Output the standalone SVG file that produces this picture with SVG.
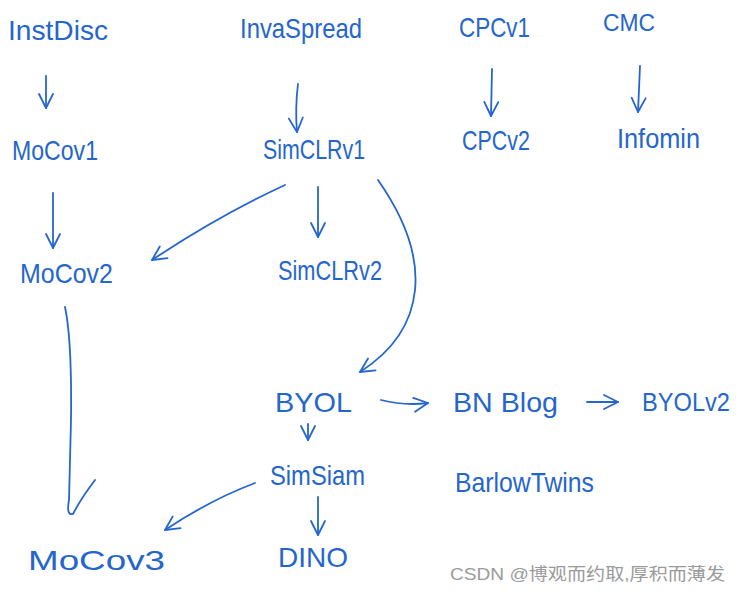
<svg xmlns="http://www.w3.org/2000/svg" width="742" height="592" viewBox="0 0 742 592">
<style>
.t{font-family:"Liberation Sans",Arial,sans-serif;font-size:28px;fill:#2566cc;}
.c{fill:none;stroke:#2566cc;stroke-width:1.8;stroke-linecap:round;stroke-linejoin:round;}
.w{font-family:"Liberation Sans","Noto Sans CJK SC",sans-serif;font-size:17px;fill:#9a9a9a;}
</style>
<defs>
<marker id="ah" viewBox="0 0 20 20" refX="18" refY="10" markerWidth="20" markerHeight="20" markerUnits="userSpaceOnUse" orient="auto">
<path d="M4,3 L18,10 L4,17" fill="none" stroke="#2566cc" stroke-width="1.8" stroke-linecap="round" stroke-linejoin="round"/>
</marker>
</defs>
<rect width="742" height="592" fill="#ffffff"/>
<g id="connectors">
<path class="c" marker-end="url(#ah)" d="M46,76 L46,108"/>
<path class="c" marker-end="url(#ah)" d="M298,84 Q295,108 297,132"/>
<path class="c" marker-end="url(#ah)" d="M492,69 L491,116"/>
<path class="c" marker-end="url(#ah)" d="M640,66 L638,112"/>
<path class="c" marker-end="url(#ah)" d="M53,193 L53,248"/>
<path class="c" marker-end="url(#ah)" d="M285,185 Q220,215 152,260"/>
<path class="c" marker-end="url(#ah)" d="M318,187 L318,237"/>
<path class="c" marker-end="url(#ah)" d="M378,180 Q420,240 415,290 Q410,340 360,372"/>
<path class="c" d="M65,307 Q72,340 71,420 L69,500 Q66,516 73,514 Q80,500 95,480"/>
<path class="c" marker-end="url(#ah)" d="M381,400 Q405,406 428,403"/>
<path class="c" marker-end="url(#ah)" d="M587,402 L618,402"/>
<path class="c" marker-end="url(#ah)" d="M308,424 L308,440"/>
<path class="c" marker-end="url(#ah)" d="M255,483 Q210,500 165,530"/>
<path class="c" marker-end="url(#ah)" d="M318,497 L318,535"/>
</g>
<g id="InstDisc"><text class="t" x="8" y="40" textLength="100" lengthAdjust="spacingAndGlyphs">InstDisc</text></g>
<g id="InvaSpread"><text class="t" x="240" y="38" textLength="122" lengthAdjust="spacingAndGlyphs">InvaSpread</text></g>
<g id="CPCv1"><text class="t" x="459" y="37" textLength="71" lengthAdjust="spacingAndGlyphs">CPCv1</text></g>
<g id="CMC"><text class="t" x="603" y="31" textLength="52" lengthAdjust="spacingAndGlyphs" style="font-size:24px">CMC</text></g>
<g id="MoCov1"><text class="t" x="12" y="160" textLength="86" lengthAdjust="spacingAndGlyphs">MoCov1</text></g>
<g id="SimCLRv1"><text class="t" x="263" y="159" textLength="102" lengthAdjust="spacingAndGlyphs">SimCLRv1</text></g>
<g id="CPCv2"><text class="t" x="462" y="150" textLength="68" lengthAdjust="spacingAndGlyphs">CPCv2</text></g>
<g id="Infomin"><text class="t" x="617" y="148" textLength="83" lengthAdjust="spacingAndGlyphs">Infomin</text></g>
<g id="MoCov2"><text class="t" x="20" y="283" textLength="93" lengthAdjust="spacingAndGlyphs">MoCov2</text></g>
<g id="SimCLRv2"><text class="t" x="278" y="280" textLength="104" lengthAdjust="spacingAndGlyphs">SimCLRv2</text></g>
<g id="BYOL"><text class="t" x="275" y="412" textLength="77" lengthAdjust="spacingAndGlyphs">BYOL</text></g>
<g id="BNBlog"><text class="t" x="453" y="412" textLength="105" lengthAdjust="spacingAndGlyphs">BN Blog</text></g>
<g id="BYOLv2"><text class="t" x="642" y="411" textLength="88" lengthAdjust="spacingAndGlyphs" style="font-size:25px">BYOLv2</text></g>
<g id="SimSiam"><text class="t" x="270" y="485" textLength="95" lengthAdjust="spacingAndGlyphs">SimSiam</text></g>
<g id="BarlowTwins"><text class="t" x="455" y="492" textLength="139" lengthAdjust="spacingAndGlyphs">BarlowTwins</text></g>
<g id="MoCov3"><text class="t" x="28" y="570" textLength="137" lengthAdjust="spacingAndGlyphs">MoCov3</text></g>
<g id="DINO"><text class="t" x="278" y="567" textLength="70" lengthAdjust="spacingAndGlyphs">DINO</text></g>
<text class="w" x="450" y="580" textLength="275" lengthAdjust="spacingAndGlyphs">CSDN @博观而约取,厚积而薄发</text>
</svg>
